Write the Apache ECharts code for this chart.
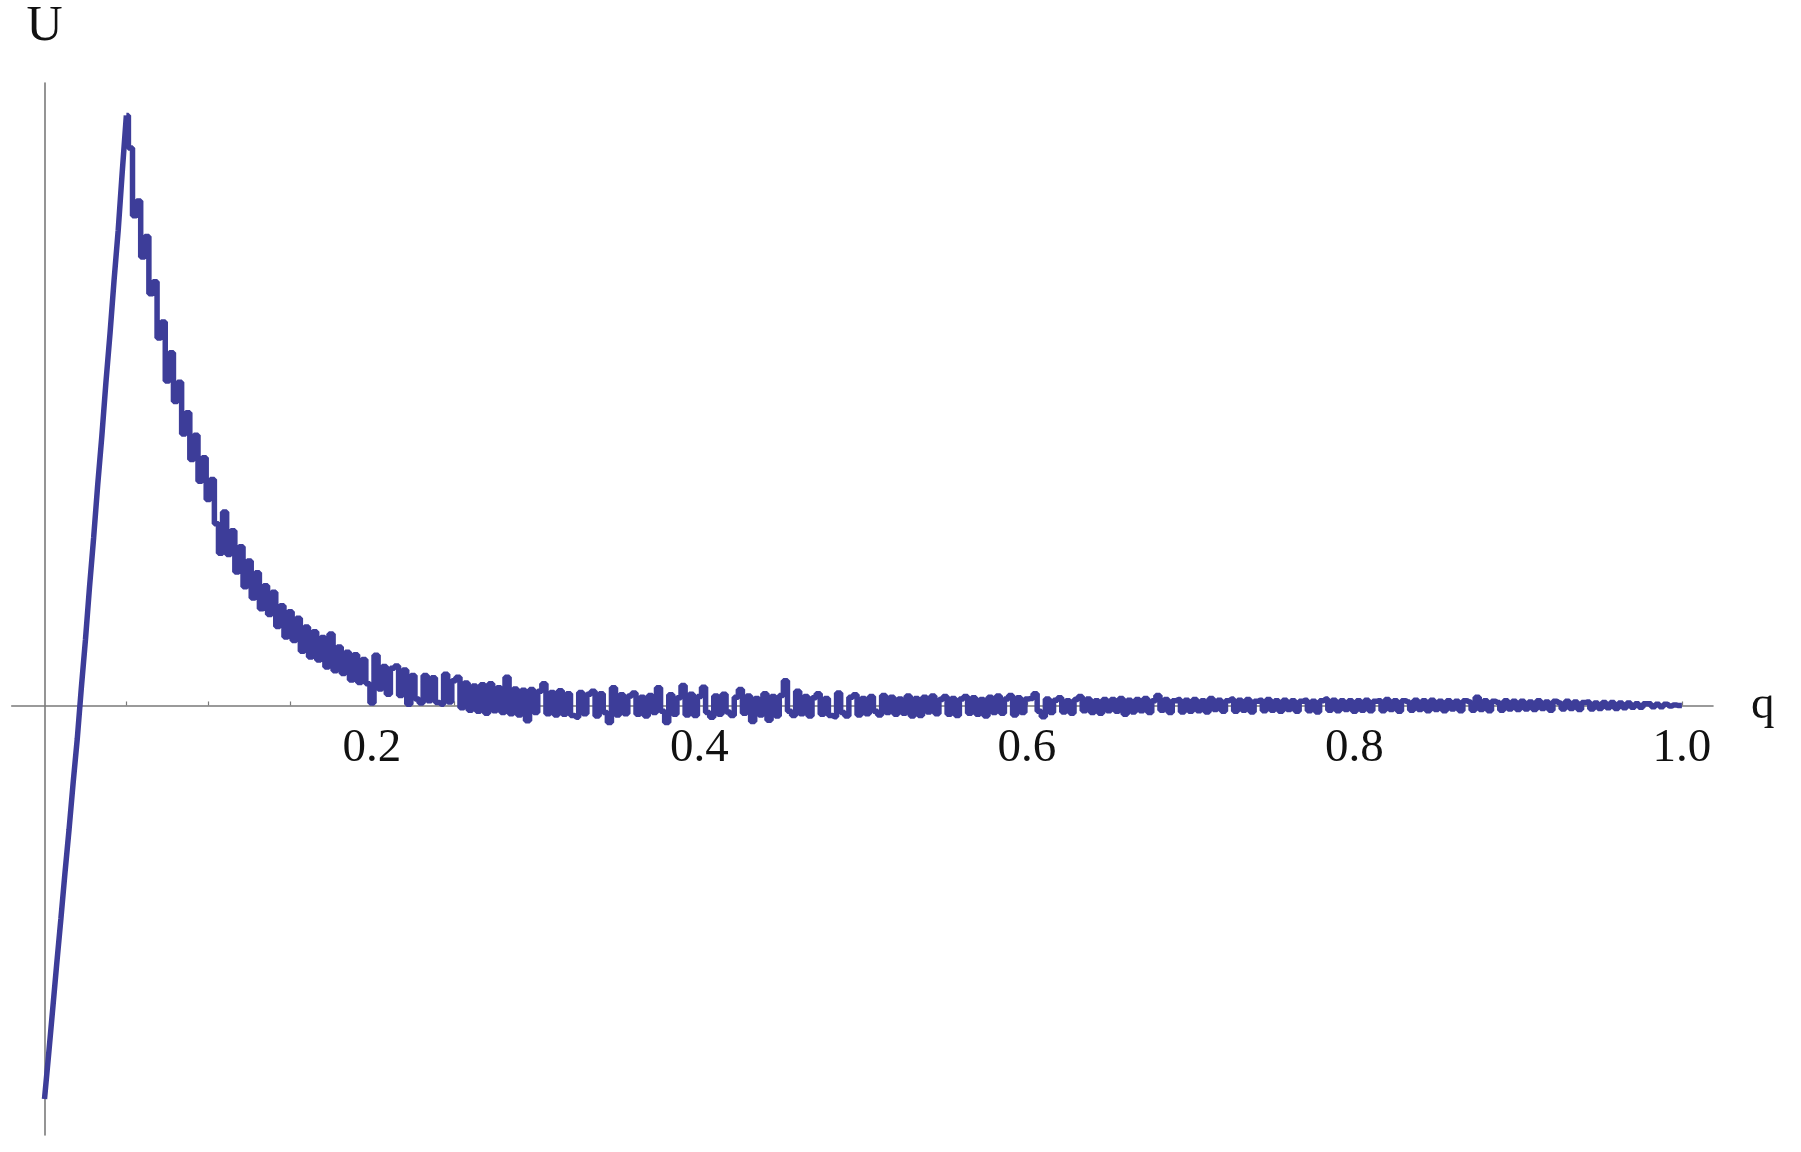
<!DOCTYPE html>
<html><head><meta charset="utf-8">
<script src="https://cdn.jsdelivr.net/npm/echarts@6/dist/echarts.min.js"></script>
<style>html,body{margin:0;padding:0;background:#fff;}#c{width:1801px;height:1152px;}</style>
</head><body><div id="c"></div>
<script>
// q sampled every 0.0025 from 0 to 1.0; U in units of 1/1000 of the peak value
const qStep = 0.0025;

// q = 0 .. 0.05 (rise to the peak)
const riseU = [-667,-592,-515,-437,-362,-284,-210,-131,-57,30,111,201,284,374,456,547,630,721,805,905,1000];

// q = 0.0525 .. 0.25 (decay)
const decayU = [
  945,830,855,760,795,698,718,623,650,550,
  598,515,548,460,496,417,458,380,420,349,
  383,308,258,328,256,296,226,269,201,245,
  182,225,164,203,154,192,134,169,116,159,
  110,148,92,133,82,125,77,115,65,121,
  59,99,54,90,43,86,39,78,37,4,
  85,28,66,19,63,67,17,60,2,51,
  11,4,51,8,47,5,2,53,6,42
];

// q = 0.2525 .. 1.0 (noisy tail)
const tailU = [
  48,-4,38,-8,33,-10,35,-13,37,-9,30,-12,48,-14,28,-16,26,-26,27,-12,
  24,37,-14,22,-16,25,-15,20,-17,-20,22,-14,19,24,-18,20,-12,-29,30,-16,
  18,-14,16,21,-15,14,-18,17,-12,30,-10,-29,18,-15,13,34,-16,19,-17,15,
  31,-12,-20,16,-15,19,-11,-17,14,27,-13,16,-27,12,-16,20,-25,15,-18,17,
  42,-10,-17,24,-14,15,-18,13,20,-15,12,-17,-19,21,-12,-18,14,18,-16,12,
  -14,15,-10,-16,17,-12,14,-15,11,-13,16,-18,12,-17,14,-11,16,-14,10,15,
  -15,12,-17,11,15,-13,13,-15,10,-18,14,-12,16,-13,11,17,-16,13,-12,11,
  12,20,-10,-19,11,-12,9,13,-11,8,-13,10,15,-9,11,-12,8,-13,10,-9,
  10,-10,12,-15,9,-11,10,-9,12,-12,8,17,-8,10,-12,8,10,-11,9,-10,
  10,-9,8,-11,12,-7,9,-10,8,11,-10,9,-8,10,-11,7,9,-9,10,-8,
  8,-10,9,-7,8,-10,7,9,-9,7,-11,8,11,-8,9,-9,8,-7,8,-10,
  8,-8,9,-9,7,8,-9,10,-7,8,-10,8,6,-8,9,-7,8,-9,9,-7,
  7,-9,8,-6,7,-9,8,6,-8,14,-7,8,-9,7,5,-8,8,-6,7,-7,
  7,-6,6,-7,8,-5,6,-8,7,4,-6,7,-5,6,-7,5,6,-6,4,-5,
  5,-4,5,-5,4,-4,4,-3,3,-3,3,3,-2,2,-2,2,-1,1,0,0
];

const xTickLabels = [0.2, 0.4, 0.6, 0.8, 1.0];
const xTicks = [0.05,0.1,0.15,0.2,0.25,0.3,0.35,0.4,0.45,0.5,0.55,0.6,0.65,0.7,0.75,0.8,0.85,0.9,0.95,1.0];
const yMin = -728, yMax = 1055;

const allU = riseU.concat(decayU, tailU);
const pts = allU.map((u, i) => [+(i * qStep).toFixed(4), u]);
const risePts = pts.slice(0, riseU.length);
const restPts = pts.slice(riseU.length - 1);

const FONT = '"Liberation Serif", "Times New Roman", serif';
const LINE = '#3d3d99';
const AXIS = '#7a7a7a';

const W = 1801, H = 1152;
const gridTop = 83, gridBottom = 17;
const plotH = H - gridTop - gridBottom;
// move the x axis (line, ticks, labels) from the grid bottom up to U = 0
const zeroOffset = -plotH * (0 - yMin) / (yMax - yMin);

const chart = echarts.init(document.getElementById('c'), null, {renderer: 'canvas'});
chart.setOption({
  animation: false,
  backgroundColor: '#ffffff',
  grid: {left: 11.75, right: 88, top: gridTop, bottom: gridBottom, containLabel: false, outerBoundsMode: 'none'},
  xAxis: {
    type: 'value', min: -0.02, max: 1.019, position: 'bottom', offset: zeroOffset,
    name: 'q', nameLocation: 'end', nameGap: 38,
    nameTextStyle: {fontFamily: FONT, fontSize: 47, color: '#111', align: 'left', verticalAlign: 'middle', lineHeight: 47},
    axisLine: {show: true, onZero: false, lineStyle: {color: AXIS, width: 1.6}},
    axisTick: {show: true, inside: true, length: 4, customValues: xTicks, lineStyle: {color: AXIS, width: 1.2}},
    axisLabel: {show: true, customValues: xTickLabels, margin: 20, fontFamily: FONT, fontSize: 47, lineHeight: 47, color: '#111',
      formatter: v => v.toFixed(1)},
    splitLine: {show: false}
  },
  yAxis: {
    type: 'value', min: yMin, max: yMax,
    name: 'U', nameLocation: 'end', nameGap: 56,
    nameTextStyle: {fontFamily: FONT, fontSize: 50, color: '#111', align: 'center', verticalAlign: 'middle', lineHeight: 50},
    axisLine: {show: true, onZero: true, lineStyle: {color: AXIS, width: 1.6}},
    axisTick: {show: false},
    axisLabel: {show: false},
    splitLine: {show: false}
  },
  series: [
    {type: 'line', data: risePts, showSymbol: false, symbol: 'none', lineStyle: {color: LINE, width: 5.5}, z: 3},
    {type: 'line', data: restPts, showSymbol: false, symbol: 'none', step: 'middle', lineStyle: {color: LINE, width: 5.5}, z: 3}
  ]
});
</script>
</body></html>
